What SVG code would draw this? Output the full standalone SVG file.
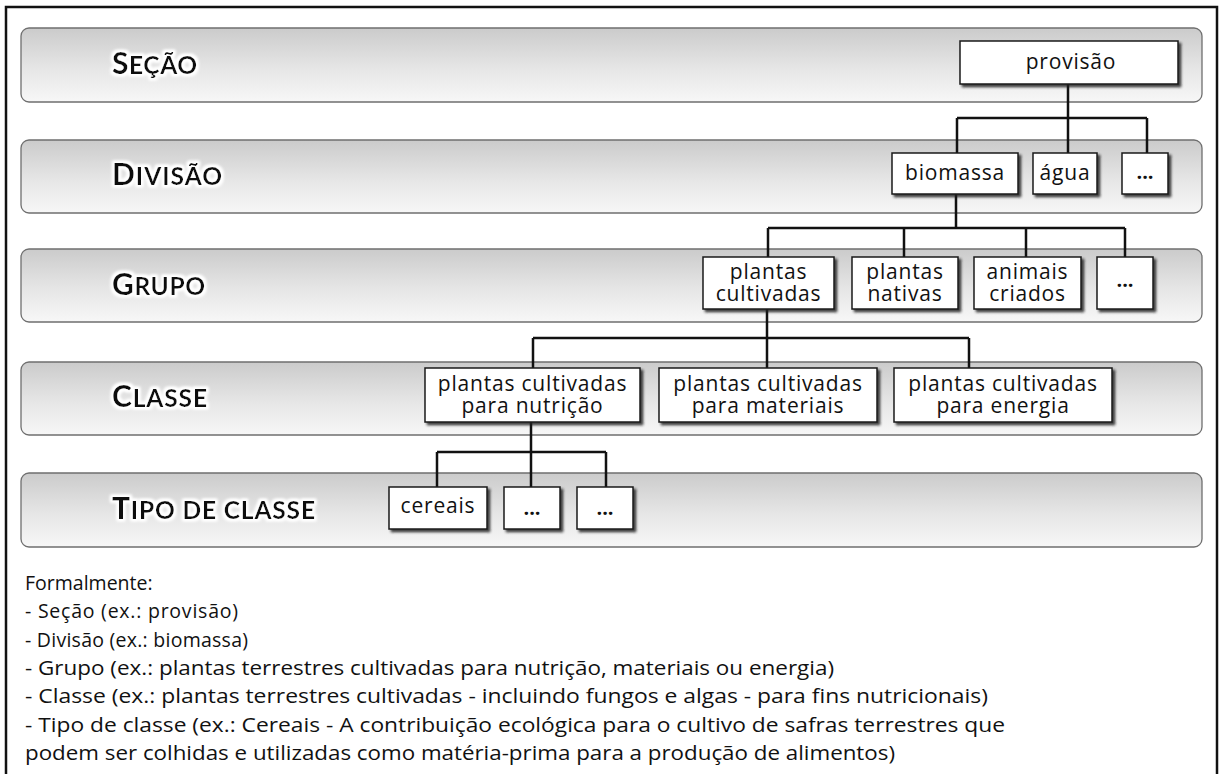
<svg xmlns="http://www.w3.org/2000/svg" width="1220" height="774" viewBox="0 0 1220 774">
  <style>
    .frame { fill: #ffffff; stroke: #111111; stroke-width: 2.5; }
    .band { fill: url(#bandGrad); stroke: #6f6f6f; stroke-width: 1.3; }
    .label { font-family: "Lato", "Open Sans", sans-serif; font-weight: 700; fill: #111111; }
    .cap { font-size: 30px; }
    .sc { font-size: 24.5px; }
    .box { fill: #ffffff; stroke: #1a1a1a; stroke-width: 1.5; filter: url(#boxShadow); }
    .nt { font-family: "Open Sans", "Noto Sans", sans-serif; font-size: 21px; letter-spacing: 0.8px; fill: #111111; text-anchor: middle; }
    .dots { font-family: "Open Sans", "Noto Sans", sans-serif; font-size: 20px; font-weight: 700; fill: #111111; text-anchor: middle; }
    .link { fill: none; stroke: #111111; stroke-width: 2.5; }
    .note { font-family: "Open Sans", "Noto Sans", sans-serif; font-size: 19.5px; fill: #111111; }
  </style>
  <defs>
    <linearGradient id="bandGrad" x1="0" y1="0" x2="0" y2="1">
      <stop offset="0" stop-color="#cbcbcb"/>
      <stop offset="0.55" stop-color="#e6e6e6"/>
      <stop offset="1" stop-color="#f7f7f7"/>
    </linearGradient>
    <filter id="boxShadow" x="-10%" y="-20%" width="125%" height="150%">
      <feDropShadow dx="2.5" dy="2.5" stdDeviation="0.9" flood-color="#222222" flood-opacity="0.85"/>
    </filter>
    <filter id="glow" x="-10%" y="-40%" width="120%" height="180%">
      <feMorphology in="SourceAlpha" operator="dilate" radius="1.6" result="fat"/>
      <feGaussianBlur in="fat" stdDeviation="1.8" result="soft"/>
      <feFlood flood-color="#ffffff"/>
      <feComposite in2="soft" operator="in" result="halo"/>
      <feMerge>
        <feMergeNode in="halo"/>
        <feMergeNode in="halo"/>
        <feMergeNode in="SourceGraphic"/>
      </feMerge>
    </filter>
  </defs>

  <!-- outer frame -->
  <rect class="frame" x="6" y="7" width="1211" height="790"/>

  <!-- level bands -->
  <g id="bands">
    <g id="band-secao">
      <rect class="band" x="21" y="28" width="1181" height="74" rx="8"/>
      <text class="label" x="112" y="74" textLength="85" filter="url(#glow)"><tspan class="cap">S</tspan><tspan class="sc">EÇÃO</tspan></text>
    </g>
    <g id="band-divisao">
      <rect class="band" x="21" y="140" width="1181" height="73" rx="8"/>
      <text class="label" x="112" y="185" textLength="110" filter="url(#glow)"><tspan class="cap">D</tspan><tspan class="sc">IVISÃO</tspan></text>
    </g>
    <g id="band-grupo">
      <rect class="band" x="21" y="249" width="1181" height="73" rx="8"/>
      <text class="label" x="112" y="295" textLength="93" filter="url(#glow)"><tspan class="cap">G</tspan><tspan class="sc">RUPO</tspan></text>
    </g>
    <g id="band-classe">
      <rect class="band" x="21" y="362" width="1181" height="73" rx="8"/>
      <text class="label" x="112" y="407" textLength="95" filter="url(#glow)"><tspan class="cap">C</tspan><tspan class="sc">LASSE</tspan></text>
    </g>
    <g id="band-tipo">
      <rect class="band" x="21" y="473" width="1181" height="74" rx="8"/>
      <text class="label" x="112" y="519" textLength="203" filter="url(#glow)"><tspan class="cap">T</tspan><tspan class="sc">IPO DE CLASSE</tspan></text>
    </g>
  </g>

  <!-- tree connectors -->
  <g id="connectors">
    <path class="link" d="M1068 84 V118 M957 118 H1147 M957 118 V153 M1068 118 V153 M1147 118 V153"/>
    <path class="link" d="M956 194 V228 M768 228 H1125 M768 228 V257 M904 228 V257 M1026 228 V257 M1125 228 V257"/>
    <path class="link" d="M767 309 V338 M533 338 H969 M533 338 V368 M767 338 V368 M969 338 V368"/>
    <path class="link" d="M531 422 V452 M437 452 H606 M437 452 V487 M531 452 V487 M606 452 V487"/>
  </g>

  <!-- Seção -->
  <g id="node-provisao">
    <rect class="box" x="960" y="41" width="218" height="43"/>
    <text class="nt" x="1071" y="69">provisão</text>
  </g>

  <!-- Divisão -->
  <g id="node-biomassa">
    <rect class="box" x="892" y="153" width="126" height="41"/>
    <text class="nt" x="955" y="180">biomassa</text>
  </g>
  <g id="node-agua">
    <rect class="box" x="1033" y="153" width="64" height="41"/>
    <text class="nt" x="1065" y="180">água</text>
  </g>
  <g id="node-divisao-mais">
    <rect class="box" x="1122" y="153" width="46" height="41"/>
    <text class="dots" x="1145" y="179">...</text>
  </g>

  <!-- Grupo -->
  <g id="node-plantas-cultivadas">
    <rect class="box" x="703" y="257" width="131" height="52"/>
    <text class="nt" x="768.5" y="279">plantas</text>
    <text class="nt" x="768.5" y="301">cultivadas</text>
  </g>
  <g id="node-plantas-nativas">
    <rect class="box" x="852" y="257" width="106" height="52"/>
    <text class="nt" x="905" y="279">plantas</text>
    <text class="nt" x="905" y="301">nativas</text>
  </g>
  <g id="node-animais-criados">
    <rect class="box" x="974" y="257" width="107" height="52"/>
    <text class="nt" x="1027.5" y="279">animais</text>
    <text class="nt" x="1027.5" y="301">criados</text>
  </g>
  <g id="node-grupo-mais">
    <rect class="box" x="1097" y="257" width="56" height="52"/>
    <text class="dots" x="1125" y="287">...</text>
  </g>

  <!-- Classe -->
  <g id="node-nutricao">
    <rect class="box" x="425" y="368" width="215" height="54"/>
    <text class="nt" x="532.5" y="391">plantas cultivadas</text>
    <text class="nt" x="532.5" y="413">para nutrição</text>
  </g>
  <g id="node-materiais">
    <rect class="box" x="659" y="368" width="218" height="54"/>
    <text class="nt" x="768" y="391">plantas cultivadas</text>
    <text class="nt" x="768" y="413">para materiais</text>
  </g>
  <g id="node-energia">
    <rect class="box" x="894" y="368" width="218" height="54"/>
    <text class="nt" x="1003" y="391">plantas cultivadas</text>
    <text class="nt" x="1003" y="413">para energia</text>
  </g>

  <!-- Tipo de classe -->
  <g id="node-cereais">
    <rect class="box" x="389" y="487" width="98" height="42"/>
    <text class="nt" x="438" y="513">cereais</text>
  </g>
  <g id="node-tipo-mais-1">
    <rect class="box" x="504" y="487" width="56" height="42"/>
    <text class="dots" x="532" y="515">...</text>
  </g>
  <g id="node-tipo-mais-2">
    <rect class="box" x="577" y="487" width="56" height="42"/>
    <text class="dots" x="605" y="515">...</text>
  </g>

  <!-- definitions below the chart -->
  <g id="notes">
    <text class="note" x="25" y="590">Formalmente:</text>
    <text class="note" x="25" y="618" textLength="213" lengthAdjust="spacing">- Seção (ex.: provisão)</text>
    <text class="note" x="25" y="647" textLength="223" lengthAdjust="spacing">- Divisão (ex.: biomassa)</text>
    <text class="note" x="25" y="675" textLength="809" lengthAdjust="spacingAndGlyphs">- Grupo (ex.: plantas terrestres cultivadas para nutrição, materiais ou energia)</text>
    <text class="note" x="25" y="703" textLength="963" lengthAdjust="spacingAndGlyphs">- Classe (ex.: plantas terrestres cultivadas - incluindo fungos e algas - para fins nutricionais)</text>
    <text class="note" x="25" y="732" textLength="980" lengthAdjust="spacingAndGlyphs">- Tipo de classe (ex.: Cereais - A contribuição ecológica para o cultivo de safras terrestres que</text>
    <text class="note" x="25" y="760" textLength="870" lengthAdjust="spacingAndGlyphs">podem ser colhidas e utilizadas como matéria-prima para a produção de alimentos)</text>
  </g>
</svg>
